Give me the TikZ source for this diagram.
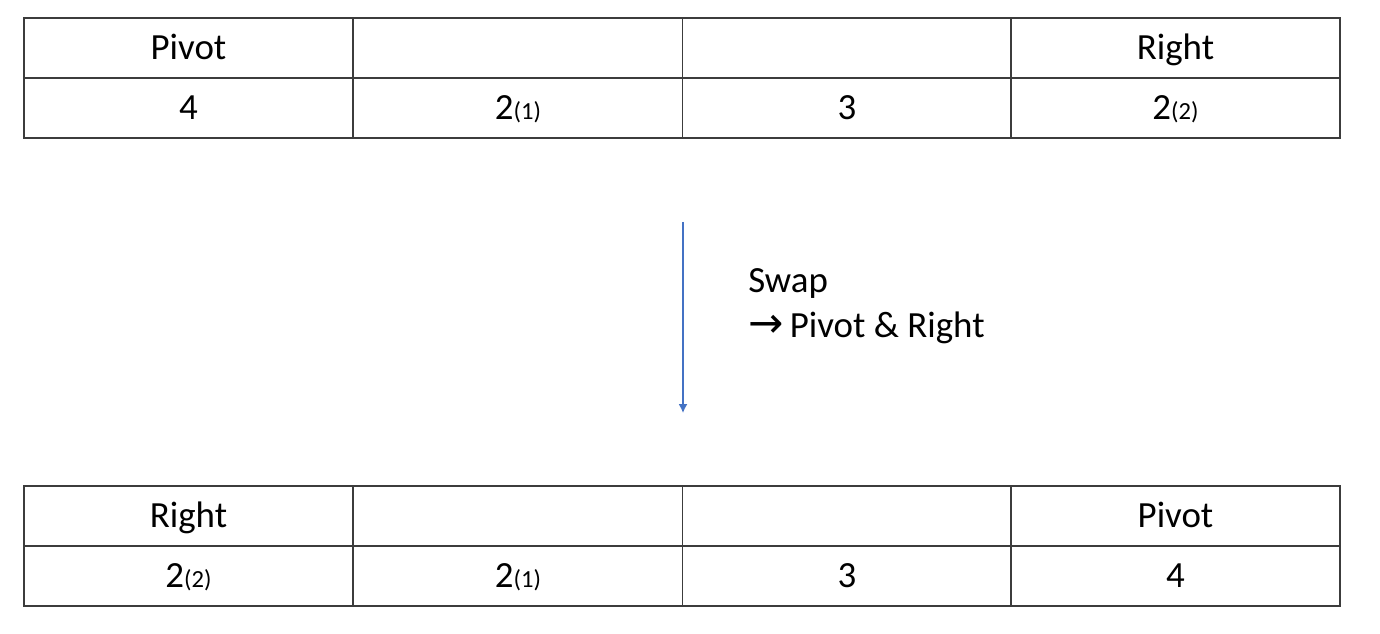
\documentclass[tikz,border=0pt]{standalone}
\usepackage{fontspec}
\setmainfont{Carlito}
\newfontfamily\arrowfont{DejaVu Sans}
\usepackage{xcolor}
\definecolor{cellline}{RGB}{60,60,60}
\definecolor{swapblue}{RGB}{68,114,196}
\usetikzlibrary{calc}
\usetikzlibrary{arrows.meta}
\newcommand{\idx}[1]{{\fontsize{14}{16}\selectfont #1}}
\tikzset{
  cell/.style={draw=cellline, line width=1pt, minimum width=6.58cm, minimum height=1.2cm, inner sep=0pt, outer sep=0pt, text height=13.5pt, text depth=0pt, font=\fontsize{21}{25}\selectfont},
  swaparrow/.style={draw=swapblue, line width=0.8pt, -{Latex[length=5pt,width=5pt]}}
}

\begin{document}
\begin{tikzpicture}[x=0.02cm, y=-0.02cm]
\useasboundingbox (0,0) rectangle (1380,634);
% before swap
\node[cell] (t11) at (188.5,48) {Pivot};
\node[cell] (t12) at (518,48) {};
\node[cell] (t13) at (847,48) {};
\node[cell] (t14) at (1175.5,48) {Right};
\node[cell] (t21) at (188.5,108) {4};
\node[cell] (t22) at (518,108) {2\idx{(1)}};
\node[cell] (t23) at (847,108) {3};
\node[cell] (t24) at (1175.5,108) {2\idx{(2)}};
% after swap
\node[cell] (b11) at (188.5,516) {Right};
\node[cell] (b12) at (518,516) {};
\node[cell] (b13) at (847,516) {};
\node[cell] (b14) at (1175.5,516) {Pivot};
\node[cell] (b21) at (188.5,576) {2\idx{(2)}};
\node[cell] (b22) at (518,576) {2\idx{(1)}};
\node[cell] (b23) at (847,576) {3};
\node[cell] (b24) at (1175.5,576) {4};
% swap step
\coordinate (arrtop) at (683,222);
\coordinate (arrbot) at (683,413);
\draw[swaparrow] (arrtop) -- (arrbot);
\node[anchor=north west, align=left, inner sep=0pt, font=\fontsize{21}{26}\selectfont] (swaptext) at (748,268)
  {Swap\\{\arrowfont\fontsize{24}{26}\selectfont →}\,Pivot \& Right};
\end{tikzpicture}
\end{document}
